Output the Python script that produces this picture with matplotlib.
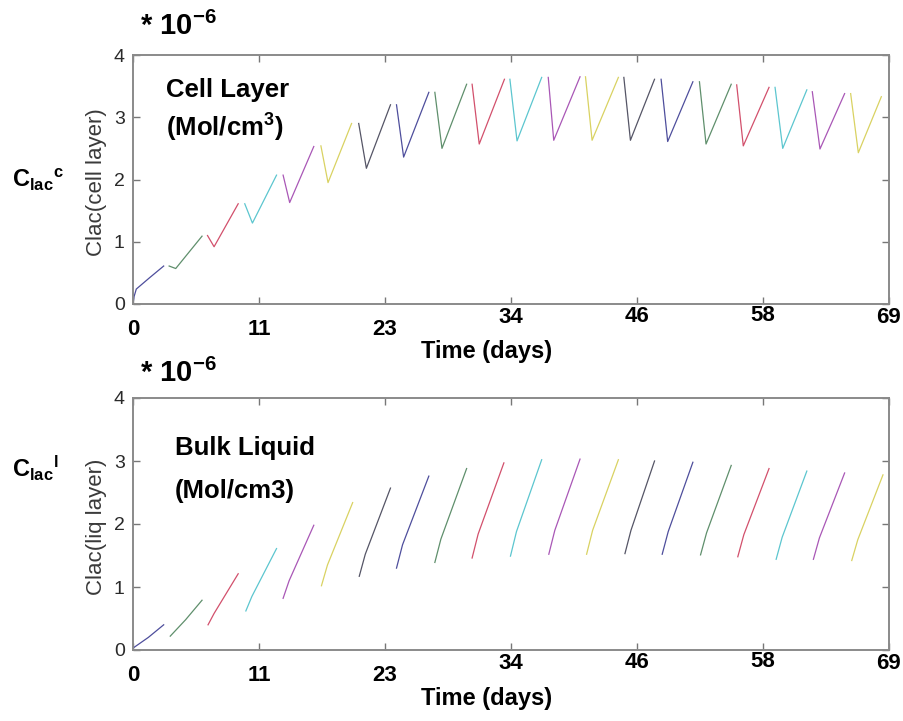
import numpy as np
import matplotlib
matplotlib.use('Agg')
import matplotlib.pyplot as plt
from matplotlib.transforms import ScaledTranslation

plt.rcParams['font.family'] = ['Liberation Sans', 'DejaVu Sans']
plt.rcParams['mathtext.fontset'] = 'custom'
plt.rcParams['mathtext.rm'] = 'Liberation Sans'
plt.rcParams['mathtext.bf'] = 'Liberation Sans:bold'
plt.rcParams['mathtext.it'] = 'Liberation Sans:italic'

# time axis (days) and its labels
xticks = np.linspace(0, 69, 7)
xtick_labels = ['0', '11', '23', '34', '46', '58', '69']
yticks = [0, 1, 2, 3, 4]

# cell layer: each refill period is a short drop then a rise  (values * 1e-6)
cell_t = [
    [0.0, 0.1, 0.3, 1.5, 2.8],
    [3.3, 3.9, 6.3],
    [6.8, 7.4, 9.6],
    [10.2, 10.9, 13.1],
    [13.7, 14.3, 16.5],
    [17.15, 17.8, 19.95],
    [20.6, 21.3, 23.5],
    [24.05, 24.7, 27.0],
    [27.55, 28.2, 30.45],
    [30.95, 31.6, 33.9],
    [34.4, 35.05, 37.3],
    [37.9, 38.4, 40.8],
    [41.3, 41.9, 44.3],
    [44.8, 45.4, 47.6],
    [48.2, 48.8, 51.1],
    [51.7, 52.3, 54.6],
    [55.1, 55.7, 58.05],
    [58.6, 59.3, 61.5],
    [62.0, 62.7, 64.95],
    [65.5, 66.2, 68.3],
]
cell_v = [
    [0.0, 0.12, 0.24, 0.42, 0.61],
    [0.61, 0.57, 1.09],
    [1.10, 0.92, 1.61],
    [1.61, 1.30, 2.07],
    [2.07, 1.63, 2.53],
    [2.54, 1.95, 2.90],
    [2.90, 2.18, 3.20],
    [3.20, 2.36, 3.40],
    [3.40, 2.50, 3.53],
    [3.53, 2.57, 3.61],
    [3.61, 2.62, 3.64],
    [3.64, 2.63, 3.65],
    [3.65, 2.63, 3.64],
    [3.64, 2.63, 3.61],
    [3.61, 2.61, 3.57],
    [3.57, 2.57, 3.53],
    [3.52, 2.54, 3.48],
    [3.48, 2.50, 3.44],
    [3.41, 2.49, 3.38],
    [3.38, 2.43, 3.33],
]

# bulk liquid: rises between medium changes
liq_t = [
    [0.0, 1.4, 2.8],
    [3.4, 4.8, 6.3],
    [6.85, 7.4, 9.6],
    [10.3, 10.85, 13.1],
    [13.7, 14.25, 16.5],
    [17.2, 17.75, 20.05],
    [20.65, 21.2, 23.5],
    [24.05, 24.6, 27.0],
    [27.55, 28.1, 30.45],
    [30.95, 31.5, 33.85],
    [34.45, 35.0, 37.3],
    [37.95, 38.5, 40.8],
    [41.4, 41.95, 44.3],
    [44.9, 45.45, 47.6],
    [48.3, 48.85, 51.1],
    [51.8, 52.35, 54.6],
    [55.2, 55.75, 58.05],
    [58.7, 59.25, 61.5],
    [62.1, 62.65, 64.95],
    [65.6, 66.15, 68.45],
]
liq_v = [
    [0.03, 0.20, 0.40],
    [0.22, 0.48, 0.79],
    [0.40, 0.58, 1.21],
    [0.62, 0.85, 1.61],
    [0.82, 1.10, 1.98],
    [1.02, 1.35, 2.34],
    [1.17, 1.52, 2.57],
    [1.30, 1.67, 2.76],
    [1.39, 1.76, 2.88],
    [1.46, 1.84, 2.97],
    [1.49, 1.88, 3.02],
    [1.52, 1.90, 3.03],
    [1.52, 1.90, 3.02],
    [1.53, 1.90, 3.00],
    [1.52, 1.88, 2.98],
    [1.51, 1.86, 2.93],
    [1.48, 1.83, 2.88],
    [1.44, 1.79, 2.84],
    [1.44, 1.78, 2.81],
    [1.42, 1.75, 2.78],
]

# faded matlab b g r c m y k cycle
seg_colors = ['#4e4e9c', '#5f8f6c', '#d2506c', '#5cc6cf', '#a957b6', '#d9d262', '#555566']

W, H = 904, 721
fig = plt.figure(figsize=(W / 100, H / 100), dpi=100)


def fx(px):
    return px / W


def fy(py):
    return 1 - py / H


def setup_axes(ax, ylab, lab_top):
    ax.set_xlim(0, 69)
    ax.set_ylim(0, 4)
    ax.set_xticks(xticks)
    ax.set_xticklabels(xtick_labels, fontsize=16, fontweight='bold')
    ax.set_yticks(yticks)
    ax.set_yticklabels([str(v) for v in yticks], fontsize=14, color='#2a2a2a')
    for sp in ax.spines.values():
        sp.set_color('#8a8a8a')
        sp.set_linewidth(1.4)
    ax.tick_params(direction='in', top=True, right=True, length=5, width=1, color='#777777')
    ax.tick_params(axis='x', pad=2)
    ax.tick_params(axis='y', pad=6)
    # scanned labels sit unevenly: the left three sit lower than the rest
    drops = [9, 9, 9, 0, -0.5, -1, 0]
    for lab, d in zip(ax.get_xticklabels(), drops):
        lab.set_transform(lab.get_transform() + ScaledTranslation(0, -d / 72, fig.dpi_scale_trans))
    ax.set_xlabel('Time (days)', fontsize=17, fontweight='bold')
    ax.xaxis.set_label_coords(0.468, lab_top)
    ax.set_ylabel(ylab, fontsize=16, color='#3a3a3a')
    ax.yaxis.set_label_coords(-0.034, 0.49)


ax1 = fig.add_axes([fx(133), fy(304), (889 - 133) / W, (304 - 55) / H])
for i, (t, v) in enumerate(zip(cell_t, cell_v)):
    ax1.plot(t, v, color=seg_colors[i % 7], lw=0.9)
setup_axes(ax1, 'Clac(cell layer)', -0.145)

ax2 = fig.add_axes([fx(133), fy(650), (889 - 133) / W, (650 - 398) / H])
for i, (t, v) in enumerate(zip(liq_t, liq_v)):
    ax2.plot(t, v, color=seg_colors[i % 7], lw=0.9)
setup_axes(ax2, 'Clac(liq layer)', -0.147)

# scale factor and side labels
fig.text(fx(140), fy(35), r'* $\mathbf{10^{-6}}$', fontsize=21, fontweight='bold', va='baseline')
fig.text(fx(140), fy(382), r'* $\mathbf{10^{-6}}$', fontsize=21, fontweight='bold', va='baseline')
fig.text(fx(12), fy(187), r'${\mathbf{C}_{\mathbf{lac}}}^{\mathbf{c}}$', fontsize=17, va='baseline')
fig.text(fx(12), fy(477), r'${\mathbf{C}_{\mathbf{lac}}}^{\mathbf{l}}$', fontsize=17, va='baseline')

fig.text(fx(166), fy(97), 'Cell Layer', fontsize=18.5, fontweight='bold', va='baseline')
fig.text(fx(166), fy(137), r'(Mol/cm$^{\mathbf{3}}$)', fontsize=18.5, fontweight='bold', va='baseline')
fig.text(fx(175), fy(455), 'Bulk Liquid', fontsize=18.5, fontweight='bold', va='baseline')
fig.text(fx(175), fy(498), '(Mol/cm3)', fontsize=18.5, fontweight='bold', va='baseline')

fig.savefig('out.png', dpi=100)
